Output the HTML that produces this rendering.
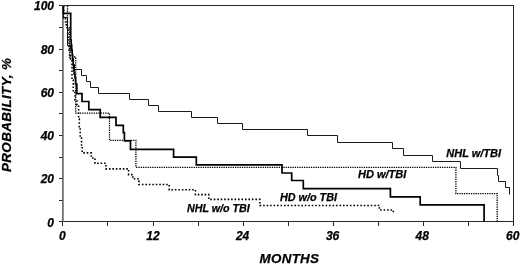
<!DOCTYPE html>
<html><head><meta charset="utf-8">
<style>
html,body{margin:0;padding:0;background:#fff;}
body{will-change:transform;width:520px;height:265px;position:relative;overflow:hidden;font-family:"Liberation Sans",sans-serif;font-style:italic;font-weight:bold;color:#000;-webkit-text-stroke:0.25px #000;}
svg{position:absolute;left:0;top:0;}
.yl{position:absolute;left:19px;width:35px;text-align:right;font-size:12px;line-height:14px;}
.xl{position:absolute;top:228.6px;width:30px;text-align:center;font-size:12px;line-height:14px;}
.lab{position:absolute;font-size:11px;line-height:12px;white-space:nowrap;}
#mo{position:absolute;left:259.5px;top:251.3px;font-size:13.4px;line-height:15px;letter-spacing:0.3px;}
#pr{position:absolute;left:0;top:0;font-size:13.4px;line-height:15px;white-space:nowrap;transform-origin:0 0;letter-spacing:0.38px;}
</style></head><body>
<svg width="520" height="265" viewBox="0 0 520 265">
<g stroke="#262626" stroke-width="1" fill="none" shape-rendering="crispEdges">
<path d="M59,5.5 H513.5 V221.5 M59,221.5 H513.5"/>
<line x1="59" y1="221.5" x2="62.5" y2="221.5"/><line x1="59" y1="200.5" x2="62.5" y2="200.5"/><line x1="59" y1="178.5" x2="62.5" y2="178.5"/><line x1="59" y1="157.5" x2="62.5" y2="157.5"/><line x1="59" y1="135.5" x2="62.5" y2="135.5"/><line x1="59" y1="113.5" x2="62.5" y2="113.5"/><line x1="59" y1="92.5" x2="62.5" y2="92.5"/><line x1="59" y1="70.5" x2="62.5" y2="70.5"/><line x1="59" y1="49.5" x2="62.5" y2="49.5"/><line x1="59" y1="27.5" x2="62.5" y2="27.5"/><line x1="59" y1="5.5" x2="62.5" y2="5.5"/><line x1="62.5" y1="221.5" x2="62.5" y2="226"/><line x1="107.5" y1="221.5" x2="107.5" y2="226"/><line x1="153.5" y1="221.5" x2="153.5" y2="226"/><line x1="198.5" y1="221.5" x2="198.5" y2="226"/><line x1="243.5" y1="221.5" x2="243.5" y2="226"/><line x1="288.5" y1="221.5" x2="288.5" y2="226"/><line x1="333.5" y1="221.5" x2="333.5" y2="226"/><line x1="378.5" y1="221.5" x2="378.5" y2="226"/><line x1="423.5" y1="221.5" x2="423.5" y2="226"/><line x1="468.5" y1="221.5" x2="468.5" y2="226"/><line x1="513.5" y1="221.5" x2="513.5" y2="226"/>
</g>
<path d="M62.9,5 V222" stroke="#555" stroke-width="1.5" fill="none"/>
<g fill="none" stroke="#000" stroke-linejoin="miter" stroke-linecap="butt">
<path d="M63.5,6.5 V17.5 H67.5 V45.5 H70.5 V50.5 H72.5 V58.5 H73.5 V64.5 H74.5 V69.5 H81.5 V75.5 H86.5 V81.5 H90.5 V87.5 H98.5 V93.5 H129.5 V99.5 H148.5 V105.5 H158.5 V111.5 H191.5 V117.5 H217.5 V123.5 H242.5 V129.5 H307.5 V135.5 H337.5 V142.5 H392.5 V148.5 H403.5 V155.5 H432.5 V161.5 H460.5 V168.5 H497.5 V175.5 H498.5 V181.5 H505.5 V187.5 H509.5 V194.5" stroke-width="1" stroke="#1a1a1a"/>
<path d="M63.4,6 V13.3 H70.7 V40 H71.2 V45 H71.7 V50 H72.2 V55 H72.7 V60 H73.2 V65 H73.7 V70 H74.2 V74 H75 V78 H75.6 V84 H76.8 V93.6 H82 V101.5 H88.8 V109.6 H100.2 V117.4 H116 V125.4 H123.3 V132.7 H124.4 V140.8 H130.5 V149.4 H173.6 V157.1 H196.3 V164.9 H282 V173 H291.7 V180.5 H303.3 V188.6 H390.4 V196.9 H420.2 V204.8 H484.1 V221.5" stroke-width="1.7"/>
<path d="M67.5,6 V28 H69.5 V57 H75.7 V113.2 H109.5 V140.4 H135.9 V167.4 H455.9 V193.7 H497.2 V221.5" stroke-width="1.3" stroke-dasharray="1.3 1.0" stroke-linecap="butt"/>
<path d="M63.6,6 V18 H65.5 V22 H66.3 V26 H67 V30 H68 V40 H69 V50 H70.5 V60 H72 V80 H73.3 V92 H75 V100 H77 V105 H78.6 V119 H79.3 V127 H80.2 V138 H81.5 V146 H82.2 V152.9 H91.3 V158 H95 V163.3 H105.9 V168.9 H128.6 V174.6 H132.8 V178.8 H138.9 V184.5 H169.2 V189.7 H195.4 V194.6 H208.8 V199.4 H259.8 V205.5 H379.4 V210 H393.3 V212.9" stroke-width="1.6" stroke-dasharray="1.6 1.87" stroke-linecap="butt"/>
</g>
</svg>
<div class="yl" style="top:215.6px">0</div><div class="yl" style="top:172.4px">20</div><div class="yl" style="top:129.3px">40</div><div class="yl" style="top:86.1px">60</div><div class="yl" style="top:43.0px">80</div><div class="yl" style="top:-0.6px">100</div>
<div class="xl" style="left:47.3px">0</div><div class="xl" style="left:137.9px">12</div><div class="xl" style="left:227.6px">24</div><div class="xl" style="left:317.6px">36</div><div class="xl" style="left:407.3px">48</div><div class="xl" style="left:497.8px">60</div>
<div class="lab" style="left:446.3px;top:147.3px">NHL w/TBI</div>
<div class="lab" style="left:358px;top:168.3px">HD w/TBI</div>
<div class="lab" style="left:280px;top:191px;font-size:10.8px">HD w/o TBI</div>
<div class="lab" style="left:187px;top:202px;font-size:10.7px">NHL w/o TBI</div>
<div id="mo">MONTHS</div>
<div id="pr" style="transform:translate(-1.2px,172px) rotate(-90deg)">PROBABILITY, %</div>
</body></html>
